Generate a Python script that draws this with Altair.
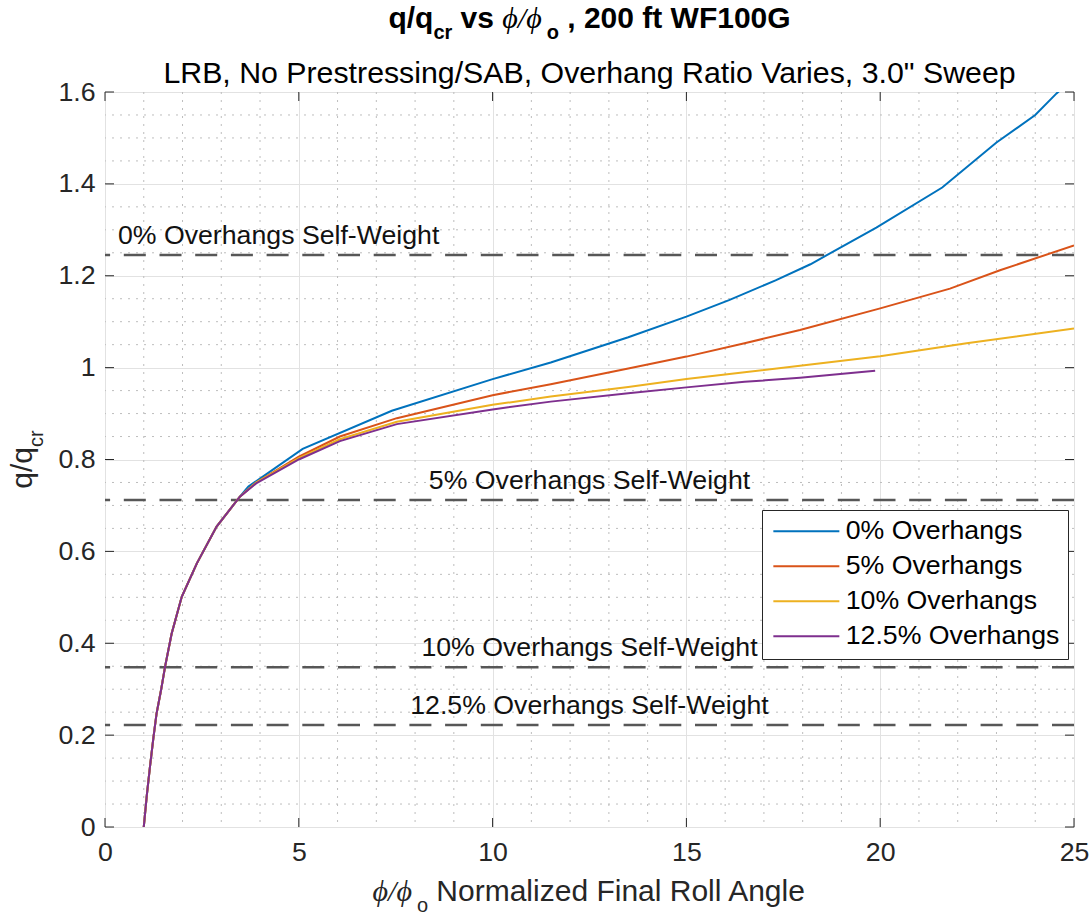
import altair as alt
import pandas as pd

# ------------------------------------------------------------------ data
series_names = ["0% Overhangs", "5% Overhangs", "10% Overhangs", "12.5% Overhangs"]
series_colors = ["#0072BD", "#D95319", "#EDB120", "#7E2F8E"]

x_0 = [1.0, 1.08, 1.16, 1.25, 1.33, 1.45, 1.55, 1.72, 1.98, 2.37, 2.88, 3.48, 3.7,
       5.1, 7.4, 10.0, 11.5, 13.5, 15.0, 16.1, 17.3, 18.2, 19.9, 21.6, 23.0, 24.0, 24.55, 25.0]
y_0 = [0.0, 0.07, 0.131, 0.195, 0.247, 0.30, 0.349, 0.421, 0.501, 0.574, 0.654, 0.719, 0.741,
       0.823, 0.906, 0.975, 1.011, 1.066, 1.111, 1.147, 1.19, 1.225, 1.305, 1.392, 1.49, 1.55, 1.597, 1.63]

x_5 = [1.0, 1.08, 1.16, 1.25, 1.33, 1.45, 1.55, 1.72, 1.98, 2.37, 2.88, 3.48, 3.9,
       5.0, 6.06, 7.53, 10.0, 11.5, 13.5, 15.0, 16.5, 17.93, 20.0, 21.8, 23.09, 25.0]
y_5 = [0.0, 0.07, 0.131, 0.195, 0.247, 0.30, 0.349, 0.421, 0.501, 0.574, 0.654, 0.719, 0.75,
       0.806, 0.85, 0.89, 0.94, 0.964, 0.998, 1.024, 1.053, 1.082, 1.129, 1.172, 1.212, 1.266]

x_10 = [1.0, 1.08, 1.16, 1.25, 1.33, 1.45, 1.55, 1.72, 1.98, 2.37, 2.88, 3.48, 3.9,
        5.0, 6.06, 7.53, 10.0, 11.5, 13.5, 15.0, 16.5, 17.93, 20.0, 22.23, 25.0]
y_10 = [0.0, 0.07, 0.131, 0.195, 0.247, 0.30, 0.349, 0.421, 0.501, 0.574, 0.654, 0.719, 0.75,
        0.803, 0.844, 0.882, 0.919, 0.937, 0.958, 0.975, 0.99, 1.004, 1.025, 1.053, 1.085]

x_125 = [1.0, 1.08, 1.16, 1.25, 1.33, 1.45, 1.55, 1.72, 1.98, 2.37, 2.88, 3.48, 3.9,
         5.0, 6.06, 7.53, 10.0, 11.5, 13.5, 15.0, 16.5, 17.93, 19.87]
y_125 = [0.0, 0.07, 0.131, 0.195, 0.247, 0.30, 0.349, 0.421, 0.501, 0.574, 0.654, 0.719, 0.748,
         0.80, 0.84, 0.877, 0.909, 0.926, 0.944, 0.957, 0.969, 0.978, 0.993]

sw_values = [1.245, 0.712, 0.348, 0.222]
sw_labels = ["0% Overhangs Self-Weight", "5% Overhangs Self-Weight",
             "10% Overhangs Self-Weight", "12.5% Overhangs Self-Weight"]
sw_label_x = [4.48, 12.5, 12.5, 12.5]

x_major = [0, 5, 10, 15, 20, 25]
x_minor = [1, 2, 3, 4, 6, 7, 8, 9, 11, 12, 13, 14, 16, 17, 18, 19, 21, 22, 23, 24]
y_major = [0, 0.2, 0.4, 0.6, 0.8, 1.0, 1.2, 1.4, 1.6]
y_minor = [0.05, 0.1, 0.15, 0.25, 0.3, 0.35, 0.45, 0.5, 0.55, 0.65, 0.7, 0.75,
           0.85, 0.9, 0.95, 1.05, 1.1, 1.15, 1.25, 1.3, 1.35, 1.45, 1.5, 1.55]

# ------------------------------------------------------------------ layout
W, H = 969, 735
PAD_L, PAD_T, PAD_R, PAD_B = 105, 92, 15, 88
SANS = "Liberation Sans, Helvetica, Arial"
SERIF = "Liberation Serif, DejaVu Serif"
AX = "#262626"
FS = 26.7

rows = []
for name, xs, ys in zip(series_names, [x_0, x_5, x_10, x_125], [y_0, y_5, y_10, y_125]):
    for a, b in zip(xs, ys):
        rows.append({"series": name, "x": a, "y": b})
lines_df = pd.DataFrame(rows)

xscale = alt.Scale(domain=[0, 25], nice=False, zero=False)
yscale = alt.Scale(domain=[0, 1.6], nice=False, zero=False)
xaxis = alt.Axis(values=x_major, grid=True, gridColor="#e2e2e2", gridWidth=1, ticks=False,
                 domain=False, labelFontSize=FS, labelColor=AX, labelFont=SANS,
                 labelPadding=12, labelFlush=False, labelOverlap=False, title=None)
yaxis = alt.Axis(values=y_major, grid=True, gridColor="#e2e2e2", gridWidth=1, ticks=False,
                 domain=False, labelFontSize=FS, labelColor=AX, labelFont=SANS,
                 labelPadding=10, labelFlush=False, labelOverlap=False, format="~g", title=None)


def X(f):
    return alt.X(f, type="quantitative", scale=xscale, axis=xaxis, title=None)


def Y(f):
    return alt.Y(f, type="quantitative", scale=yscale, axis=yaxis, title=None)


xmin_df = pd.DataFrame({"v": x_minor})
ymin_df = pd.DataFrame({"v": y_minor})
xmaj_df = pd.DataFrame({"v": x_major})
ymaj_df = pd.DataFrame({"v": y_major})

minor_x = alt.Chart(xmin_df).mark_rule(color="#bdbdbd", strokeWidth=1, strokeDash=[2, 6]).encode(x=X("v"))
minor_y = alt.Chart(ymin_df).mark_rule(color="#bdbdbd", strokeWidth=1, strokeDash=[2, 6]).encode(y=Y("v"))

tick_b = alt.Chart(xmaj_df).mark_rule(color=AX, strokeWidth=1).encode(x=X("v"), y=alt.value(H), y2=alt.value(H - 9))
tick_t = alt.Chart(xmaj_df).mark_rule(color=AX, strokeWidth=1).encode(x=X("v"), y=alt.value(0), y2=alt.value(9))
tick_l = alt.Chart(ymaj_df).mark_rule(color=AX, strokeWidth=1).encode(y=Y("v"), x=alt.value(0), x2=alt.value(9))
tick_r = alt.Chart(ymaj_df).mark_rule(color=AX, strokeWidth=1).encode(y=Y("v"), x=alt.value(W), x2=alt.value(W - 9))

sw_df = pd.DataFrame({"y": sw_values, "label": sw_labels, "lx": sw_label_x})
sw_rules = alt.Chart(sw_df).mark_rule(color="#575757", strokeWidth=2.5, strokeDash=[22, 13.7]).encode(y=Y("y"))
sw_text = alt.Chart(sw_df).mark_text(align="center", baseline="alphabetic", dy=-11, fontSize=FS,
                                     font=SANS, color="#111111").encode(x=X("lx"), y=Y("y"), text="label:N")

lines = alt.Chart(lines_df).mark_line(strokeWidth=2, clip=True).encode(
    x=X("x"), y=Y("y"),
    color=alt.Color("series:N", sort=series_names,
                    scale=alt.Scale(domain=series_names, range=series_colors),
                    legend=alt.Legend(orient="none", legendX=657, legendY=418, title=None,
                                      symbolType="M-3.3,0H3.3", symbolSize=400, symbolStrokeWidth=2,
                                      symbolOffset=23, labelOffset=26, labelFontSize=FS,
                                      labelFont=SANS, labelColor="#000000", labelLimit=500,
                                      strokeColor=AX, fillColor="white", padding=8, rowPadding=7)),
)

# ------------------------------------------------------------------ rich text (sub-scripts)
BOLD = {' ': .278, '/': .278, 'q': .611, 'c': .556, 'r': .389, 'v': .556, 's': .556, 'o': .611,
        ',': .278, '0': .556, '1': .556, '2': .556, 'f': .333, 't': .333, 'W': .944, 'F': .611, 'G': .778}
REG = {' ': .278, '/': .278, 'q': .556, 'c': .5, 'r': .333, 'o': .556, 'N': .722, 'm': .833,
       'a': .556, 'l': .222, 'i': .222, 'z': .5, 'e': .556, 'd': .556, 'F': .611, 'n': .556,
       'R': .722, 'A': .667, 'g': .556}
PHI = {'ϕ': .6, '/': .278, ' ': .278}


def tw(s, size, table):
    return sum(table.get(ch, .556) for ch in s) * size


def piece(text, x, y, size, weight="normal", style="normal", font=SANS, angle=0, color="#000000"):
    return alt.Chart(pd.DataFrame({"t": [text]})).mark_text(
        align="left", baseline="alphabetic", fontSize=size, fontWeight=weight, fontStyle=style,
        font=font, angle=angle, color=color).encode(x=alt.value(x), y=alt.value(y), text="t:N")


def lead(t, size, table):
    """width of leading blanks (SVG drops them) and the stripped text"""
    n = len(t) - len(t.lstrip(" "))
    return n * table[' '] * size, t.strip(" ")


# title
title_parts = [("q/q", 30, "bold", "normal", SANS, BOLD, 0),
               ("cr", 20, "bold", "normal", SANS, BOLD, 11),
               (" vs ", 30, "bold", "normal", SANS, BOLD, 0),
               ("ϕ/ϕ", 30, "normal", "italic", SERIF, PHI, 0),
               ("o", 20, "bold", "normal", SANS, BOLD, 11),
               (" , 200 ft WF100G", 30, "bold", "normal", SANS, BOLD, 0)]
total = sum(tw(p[0], p[1], p[5]) for p in title_parts)
cx = W / 2 - total / 2
text_layers = []
for t, sz, wt, st, fn, tb, dy in title_parts:
    off, s = lead(t, sz, tb)
    text_layers.append(piece(s, cx + off, -64 + dy, sz, wt, st, fn))
    cx += tw(t, sz, tb)

# subtitle
text_layers.append(alt.Chart(pd.DataFrame({"t": ["LRB, No Prestressing/SAB, Overhang Ratio Varies, 3.0\" Sweep"]}))
                   .mark_text(align="center", baseline="alphabetic", fontSize=30.3, font=SANS, color="#000000")
                   .encode(x=alt.value(W / 2), y=alt.value(-9), text="t:N"))

# x label
xl_parts = [("ϕ/ϕ", 30, "italic", SERIF, PHI, 0),
            ("o", 20, "normal", SANS, REG, 11),
            (" Normalized Final Roll Angle", 30, "normal", SANS, REG, 0)]
total = sum(tw(p[0], p[1], p[4]) for p in xl_parts)
cx = W / 2 - total / 2
for t, sz, st, fn, tb, dy in xl_parts:
    off, s = lead(t, sz, tb)
    text_layers.append(piece(s, cx + off, H + 74 + dy, sz, "normal", st, fn, color=AX))
    cx += tw(t, sz, tb)

# y label (rotated)
yl_parts = [("q/q", 30, 0), ("cr", 20, 11)]
total = sum(tw(p[0], p[1], REG) for p in yl_parts)
cy = H / 2 + total / 2
for t, sz, dx in yl_parts:
    text_layers.append(piece(t, -73 + dx, cy, sz, angle=270, color=AX))
    cy -= tw(t, sz, REG)

chart = alt.layer(minor_x, minor_y, sw_rules, lines, sw_text, tick_b, tick_t, tick_l, tick_r,
                  *text_layers).properties(
    width=W, height=H,
    autosize=alt.AutoSizeParams(type="none"),
    padding={"left": PAD_L, "top": PAD_T, "right": PAD_R, "bottom": PAD_B},
    background="white",
).configure_view(stroke=AX, strokeWidth=1).configure(font=SANS)

chart.save("out.html", embed_options={"renderer": "svg", "actions": False})
